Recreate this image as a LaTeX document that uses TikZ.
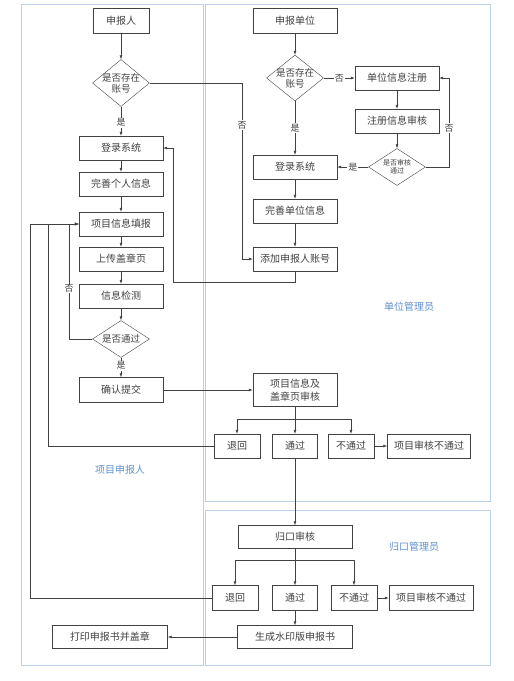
\documentclass[tikz,border=0pt]{standalone}
\usepackage{fontspec}
\newfontfamily\cjk{Noto Sans CJK SC}
\usetikzlibrary{shapes.geometric,arrows.meta}
\definecolor{laneblue}{RGB}{188,208,234}
\definecolor{labelblue}{RGB}{95,145,205}
\definecolor{ink}{RGB}{65,65,65}
\tikzset{
  stepbox/.style={draw=ink,text=ink,minimum width=84pt,minimum height=24pt,
    inner sep=1pt,align=center,font=\cjk\fontsize{10}{12}\selectfont},
  ask/.style={draw=ink,diamond,inner sep=0pt,minimum width=57pt,minimum height=46pt,
    label={[asktext]center:#1}},
  asktext/.style={text=ink,align=center,inner sep=0pt,font=\cjk\fontsize{9.5}{11}\selectfont},
  smallask/.style={asktext,font=\cjk\fontsize{7}{8.5}\selectfont},
  flow/.style={draw=ink,line width=0.6pt,-{Latex[length=4pt,width=3pt]}},
  wire/.style={draw=ink,line width=0.6pt},
  tag/.style={fill=white,text=ink,inner sep=1pt,font=\cjk\fontsize{9}{10}\selectfont},
  lane/.style={draw=laneblue,line width=0.8pt},
  lanetag/.style={text=labelblue,font=\cjk\fontsize{10}{12}\selectfont}
}
\begin{document}
\begin{tikzpicture}[x=1pt,y=-1pt]
  \useasboundingbox (0,0) rectangle (514,681);
  \draw[lane] (21,4) rectangle (203,665);
  \draw[lane] (205,4) rectangle (490,501);
  \draw[lane] (205,510) rectangle (490,665);
  \node[lanetag] at (120,470) {项目申报人};
  \node[lanetag] at (409,307) {单位管理员};
  \node[lanetag] at (414,547) {归口管理员};

  \node[stepbox,minimum width=56pt,minimum height=25pt] (applicant) at (121,21) {申报人};
  \node[ask={是否存在\\账号},minimum height=47pt] (acct) at (121,83) {};
  \node[stepbox] (login) at (121,148) {登录系统};
  \node[stepbox] (perfect) at (121,184) {完善个人信息};
  \node[stepbox] (fill) at (121,224) {项目信息填报};
  \node[stepbox] (upload) at (121,259) {上传盖章页};
  \node[stepbox] (check) at (121,296) {信息检测};
  \node[ask={是否通过},minimum height=37pt] (passq) at (121,339) {};
  \node[stepbox,minimum height=25pt] (submit) at (121,390) {确认提交};
  \node[stepbox,minimum width=115pt,minimum height=23pt] (print) at (110,637) {打印申报书并盖章};

  \node[stepbox,minimum height=25pt] (unit) at (295,21) {申报单位};
  \node[ask={是否存在\\账号}] (uacct) at (295,78) {};
  \node[stepbox] (ureg) at (397,78) {单位信息注册};
  \node[stepbox] (uaudit) at (397,121) {注册信息审核};
  \node[draw=ink,diamond,inner sep=0pt,minimum width=57pt,minimum height=37pt,
    label={[smallask]center:是否审核\\通过}] (upassq) at (397,167) {};
  \node[stepbox] (ulogin) at (295,167) {登录系统};
  \node[stepbox] (uperfect) at (295,211) {完善单位信息};
  \node[stepbox] (addacct) at (295,259) {添加申报人账号};
  \node[stepbox,minimum height=33pt,font=\cjk\fontsize{10}{13}\selectfont] (review) at (295,390) {项目信息及\\盖章页审核};
  \node[stepbox,minimum width=46pt] (back1) at (237,446) {退回};
  \node[stepbox,minimum width=45pt] (pass1) at (295,446) {通过};
  \node[stepbox,minimum width=46pt] (fail1) at (351,446) {不通过};
  \node[stepbox,minimum width=83pt] (reject1) at (429,446) {项目审核不通过};
  \node[stepbox,minimum width=114pt,minimum height=23pt] (central) at (295,537) {归口审核};
  \node[stepbox,minimum width=46pt,minimum height=25pt] (back2) at (235,598) {退回};
  \node[stepbox,minimum width=45pt,minimum height=25pt] (pass2) at (295,598) {通过};
  \node[stepbox,minimum width=46pt,minimum height=25pt] (fail2) at (354,598) {不通过};
  \node[stepbox,minimum width=84pt,minimum height=25pt] (reject2) at (431,598) {项目审核不通过};
  \node[stepbox,minimum width=115pt,minimum height=23pt] (watermark) at (295,637) {生成水印版申报书};

  \coordinate (k1) at (242,83);
  \coordinate (k2) at (69,339);
  \coordinate (k3) at (173,282);
  \coordinate (k4) at (449,167);
  \coordinate (k5) at (48,446);
  \coordinate (k6) at (30,598);
  \coordinate (j1) at (295,419);
  \coordinate (j2) at (295,560);

  \draw[flow] (applicant) -- (acct);
  \draw[flow] (acct) -- (login) node[tag,pos=0.55] {是};
  \draw[flow] (acct.east) -- (k1) |- (addacct.west) node[tag,pos=0.12] {否};
  \draw[flow] (login) -- (perfect);
  \draw[flow] (perfect) -- (fill);
  \draw[flow] (fill) -- (upload);
  \draw[flow] (upload) -- (check);
  \draw[flow] (check) -- (passq);
  \draw[flow] (passq) -- (submit) node[tag,pos=0.4] {是};
  \draw[flow] (passq.west) -- (k2) |- (fill.west) node[tag,pos=0.22] {否};

  \draw[flow] (unit) -- (uacct);
  \draw[flow] (uacct) -- (ureg) node[tag,midway] {否};
  \draw[flow] (uacct) -- (ulogin) node[tag,midway] {是};
  \draw[flow] (ureg) -- (uaudit);
  \draw[flow] (uaudit) -- (upassq);
  \draw[flow] (upassq) -- (ulogin) node[tag,midway] {是};
  \draw[flow] (upassq.east) -- (k4) |- (ureg.east) node[tag,pos=0.22] {否};
  \draw[flow] (ulogin) -- (uperfect);
  \draw[flow] (uperfect) -- (addacct);
  \draw[flow] (addacct.south) |- (k3) |- (login.east);

  \draw[flow] (submit) -- (review);
  \draw[wire] (review) -- (j1);
  \draw[flow] (j1) -| (back1);
  \draw[flow] (j1) -- (pass1);
  \draw[flow] (j1) -| (fail1);
  \draw[flow] (fail1) -- (reject1);
  \draw[flow] (back1.west) -- (k5) |- (fill.west);
  \draw[flow] (pass1) -- (central);

  \draw[wire] (central) -- (j2);
  \draw[flow] (j2) -| (back2);
  \draw[flow] (j2) -- (pass2);
  \draw[flow] (j2) -| (fail2);
  \draw[flow] (fail2) -- (reject2);
  \draw[flow] (back2.west) -- (k6) |- (fill.west);
  \draw[flow] (pass2) -- (watermark);
  \draw[flow] (watermark) -- (print);
\end{tikzpicture}
\end{document}
